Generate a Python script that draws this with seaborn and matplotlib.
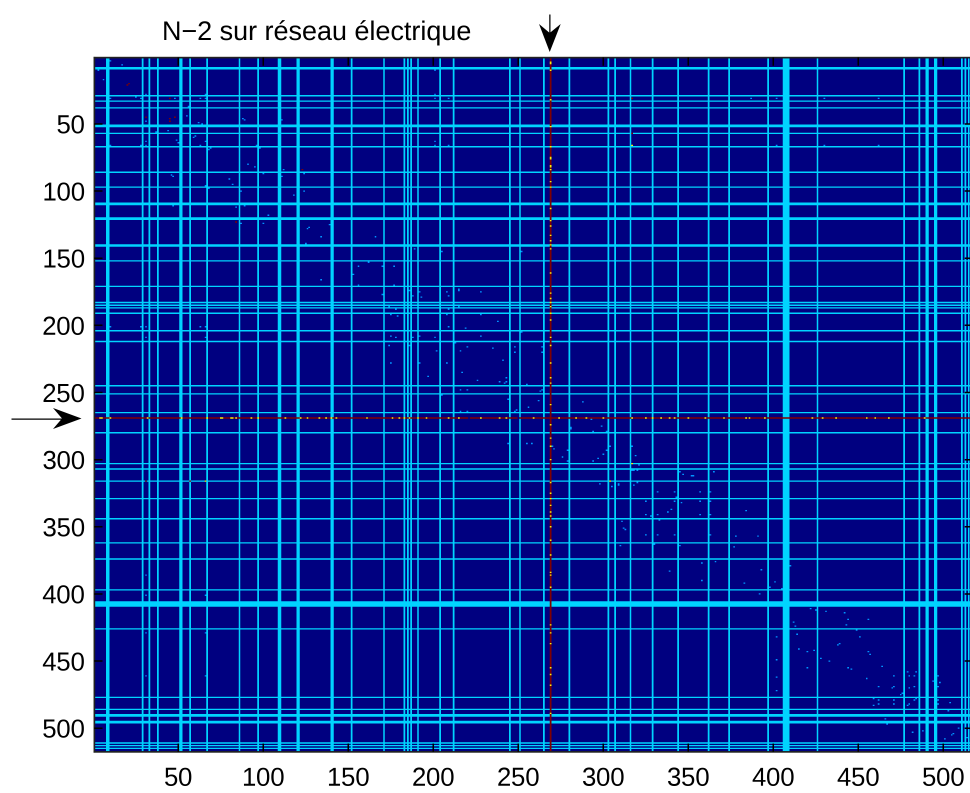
import io
import numpy as np
import matplotlib
matplotlib.use("Agg")
import matplotlib.pyplot as plt
import seaborn as sns
from matplotlib.patches import Polygon
from matplotlib.lines import Line2D

SIZE = 517
TICKS = [50, 100, 150, 200, 250, 300, 350, 400, 450, 500]
TITLE = "N\u22122 sur r\u00e9seau \u00e9lectrique"
HOT_INDEX = 269

THIN = [29, 33, 38, 57, 67, 86, 97, 120, 121, 152, 171, 183, 185, 187, 191, 204, 212, 245, 251, 265,
        280, 303, 307, 316, 329, 344, 362, 374, 397, 426, 477, 486, 511, 513, 515]
WIDE = [8, 9, 51, 52, 109, 110, 140, 141, 406, 407, 408, 409, 490, 491, 495, 496]
YELLOW = [4, 5, 10, 32, 52, 67, 75, 76, 81, 82, 84, 93, 97, 113, 122, 126, 133, 137, 140, 143, 161,
          176, 180, 183, 186, 191, 196, 209, 215, 228, 239, 243, 259, 274, 284, 290, 300, 317, 325,
          329, 334, 339, 342, 350, 360, 371, 384, 386, 395, 423, 429, 437, 455, 460, 468, 489]
RED_GAPS = [221, 250]
RED_DOTS = [(21, 20), (20, 21), (45, 31), (31, 45), (45, 46), (48, 45), (45, 48), (123, 84), (84, 123),
            (317, 31), (317, 57), (31, 316), (57, 316)]
YELLOW_DOTS = [(317, 66), (66, 316), (317, 303), (304, 316)]
DOTS = [(10,3),(17,6),(3,10),(6,17),(29,25),(31,28),(25,30),(10,31),(28,31),(48,31),(63,31),(66,31),
 (66,28),(57,26),(56,37),(55,44),(31,48),(62,49),(64,50),(37,56),(44,55),(25,57),(27,57),(45,57),
 (58,57),(60,59),(59,60),(49,62),(50,64),(31,63),(66,63),(63,66),(10,66),(28,66),(31,66),(69,68),
 (68,69),(96,66),(98,68),(88,46),(89,47),(111,47),(91,80),(95,82),(120,80),(112,84),(124,87),(100,87),
 (111,89),(120,91),(46,88),(47,89),(80,91),(82,95),(66,96),(68,98),(87,100),(118,103),(124,100),
 (47,111),(84,112),(89,111),(103,118),(80,120),(91,120),(87,124),(100,124),(127,127),(126,128),(139,125),
 (134,134),(166,134),(125,139),(162,153),(156,156),(170,156),(153,162),(134,166),(156,170),
 (201,10),(201,28),(201,31),(209,31),(201,63),(201,66),(209,66),(189,143),(205,145),(252,145),
 (177,156),(177,170),(215,173),(387,31),(402,31),(430,31),(462,31),(402,66),(430,66),(462,66),
 (10,201),(28,201),(31,201),(63,201),(66,201),(31,209),(66,209),(31,386),(31,401),(66,401),(31,429),
 (66,429),(31,461),(66,461),
 (170,177),(186,174),(192,175),(188,178),(193,179),(208,175),(209,178),(215,174),(228,175),(174,186),
 (178,188),(175,192),(179,193),(209,188),(208,192),(215,186),(228,192),(238,197),(209,201),(219,202),
 (175,208),(178,209),(188,209),(192,208),(201,209),(228,208),(252,205),(174,215),(186,215),(213,213),
 (214,212),(220,216),(235,217),(248,216),(264,216),(202,219),(216,219),(248,220),(264,220),(175,228),
 (192,228),(208,228),(241,226),(217,235),(197,238),(226,241),(243,239),(239,242),(243,242),(242,243),
 (255,244),(216,248),(220,248),(264,248),(263,249),(205,252),(244,255),(262,256),(256,261),(249,263),
 (248,264),(216,264),(220,264),(281,277),(277,280),(244,288),(255,288),(258,288),(270,290),(271,292),
 (288,257),(293,270),(299,275),(281,276),(294,279),(302,279),(304,290),(317,290),(279,293),(302,293),
 (300,296),(319,297),(297,299),(276,298),(294,301),(291,303),(279,301),(321,304),(317,308),(318,308),
 (320,308),(345,309),(347,311),(352,312),(353,312),(365,309),(291,316),(298,318),(305,320),(309,318),
 (309,319),(318,319),(320,317),(332,324),(342,324),(357,324),(363,324),(343,328),(364,329),(325,331),
 (342,331),(346,332),(357,331),(363,331),(340,337),(338,339),(384,338),(325,341),(332,341),(357,341),
 (363,341),(328,342),(310,344),(333,345),(365,344),(311,346),(312,351),(313,352),(325,356),(332,356),
 (342,356),(363,356),(378,357),(391,357),(325,362),(332,362),(342,362),(357,362),(330,363),(345,364),
 (310,364),(377,365),(358,377),(366,376),(410,379),(393,382),(339,383),(358,390),(383,392),(401,391),
 (398,395),(396,397),(392,400),(405,396),(397,404),
 (422,411),(425,412),(431,413),(442,414),(444,419),(443,423),(456,419),(412,421),(413,424),(449,427),
 (414,430),(402,432),(451,432),(439,437),(438,438),(415,441),(420,443),(424,442),(456,443),(457,445),
 (428,448),(433,450),(402,449),(464,454),(420,455),(444,455),(446,456),(479,458),(484,458),(471,461),
 (480,461),(483,461),(497,461),(402,462),(455,463),(494,465),(498,466),(462,469),(471,469),(470,470),
 (480,470),(483,469),(497,469),(402,472),(476,474),(475,475),(459,478),(462,479),(471,479),(484,478),
 (483,479),(497,479),(462,482),(459,483),(471,482),(480,482),(479,483),(497,482),(504,481),(503,487),
 (466,493),(462,496),(467,497),(471,496),(480,496),(483,496),(482,503),(488,502),(509,500),(506,504),
 (505,505),(501,508),(514,507),(508,513),(506,515)]

BASE_V, DOT_V, THIN_V, WIDE_V, YELLOW_V, RED_V = 0.0, 0.27, 0.335, 0.335, 0.66, 1.0

matrix = np.full((SIZE, SIZE), BASE_V)
for c, r in DOTS:
    matrix[r - 1, c - 1] = DOT_V
for idx in THIN:
    matrix[idx - 1, :] = THIN_V
    matrix[:, idx - 1] = THIN_V
for idx in WIDE:
    matrix[idx - 1, :] = WIDE_V
    matrix[:, idx - 1] = WIDE_V
matrix[HOT_INDEX - 1, :] = RED_V
matrix[:, HOT_INDEX - 1] = RED_V
for idx in YELLOW:
    matrix[HOT_INDEX - 1, idx - 1] = YELLOW_V
    matrix[idx - 1, HOT_INDEX - 1] = YELLOW_V
for c, r in RED_DOTS:
    matrix[r - 1, c - 1] = RED_V
for c, r in YELLOW_DOTS:
    matrix[r - 1, c - 1] = YELLOW_V
for idx in RED_GAPS:
    matrix[HOT_INDEX - 1, idx - 1] = BASE_V

W, H = 970, 793
plt.rcParams['font.family'] = ['Liberation Sans', 'DejaVu Sans']
fig = plt.figure(figsize=((W + 0.02) / 100, (H + 0.02) / 100), dpi=100, facecolor='white')
L, R, T, B = 94.15, 973.0, 57.5, 751.7
ax = fig.add_axes([L / W, 1 - B / H, (R - L) / W, (B - T) / H])
sns.heatmap(matrix, cmap='jet', vmin=0, vmax=1, cbar=False, ax=ax, square=False,
            xticklabels=False, yticklabels=False)
ax.set_aspect('auto')
ax.set_position([L / W, 1 - B / H, (R - L) / W, (B - T) / H])
pos = np.array(TICKS) - 0.5
ax.set_xticks(pos)
ax.set_xticklabels([str(t) for t in TICKS], fontsize=18.5)
ax.set_yticks(pos)
ax.set_yticklabels([str(t) for t in TICKS], fontsize=18.5, rotation=0, va='center_baseline')
ax.tick_params(axis='both', direction='in', length=6, width=1.1, color='black',
               top=True, right=True, bottom=True, left=True)
ax.tick_params(axis='x', pad=11)
ax.tick_params(axis='y', pad=6.5)
ax.set_axisbelow(False)
for s in ax.spines.values():
    s.set_visible(True)
    s.set_linewidth(1.2)
    s.set_color('#222222')


def fx(p):
    return p / W


def fy(p):
    return 1 - p / H


fig.text(fx(162), fy(40), TITLE, fontsize=19.4, ha='left', va='baseline', color='black')

# Pointer arrows
fig.add_artist(Line2D([fx(549.7)] * 2, [fy(15), fy(36)], color='black', lw=0.9))
fig.add_artist(Polygon([(fx(549.7), fy(52)), (fx(539), fy(24)), (fx(549.7), fy(33)), (fx(560.7), fy(24))],
                       closed=True, facecolor='black', edgecolor='none', transform=fig.transFigure))
fig.add_artist(Line2D([fx(12), fx(66)], [fy(419)] * 2, color='black', lw=0.9))
fig.add_artist(Polygon([(fx(81.5), fy(418.5)), (fx(53), fy(408)), (fx(62), fy(418.5)), (fx(53), fy(429))],
                       closed=True, facecolor='black', edgecolor='none', transform=fig.transFigure))

# Render at 4x and average down so that 1.7-pixel cells keep an even width.
SCALE = 4
buf = io.BytesIO()
fig.savefig(buf, dpi=100 * SCALE, format='png')
buf.seek(0)
big = plt.imread(buf)[:, :, :3]
small = big[:H * SCALE, :W * SCALE].reshape(H, SCALE, W, SCALE, 3).mean(axis=(1, 3))
plt.imsave('out.png', np.clip(small, 0, 1))
